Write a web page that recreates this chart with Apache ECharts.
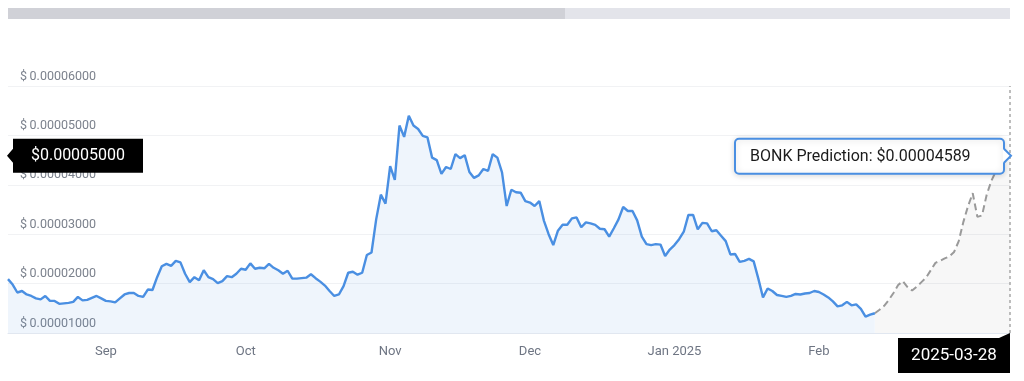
<!DOCTYPE html>
<html><head><meta charset="utf-8">
<script src="https://cdn.jsdelivr.net/npm/echarts@6/dist/echarts.min.js"></script>
<style>html,body{margin:0;padding:0;background:#fff}#c{width:1024px;height:381px}</style>
</head><body><div id="c"></div>
<script>
// ---- data ----
const historyStart = '2024-08-11';
const historyValues = [
 2.09e-5,1.98e-5,1.82e-5,1.85e-5,1.78e-5,1.75e-5,1.70e-5,1.68e-5,1.75e-5,1.65e-5,
 1.65e-5,1.59e-5,1.60e-5,1.61e-5,1.63e-5,1.73e-5,1.66e-5,1.67e-5,1.71e-5,1.75e-5,
 1.70e-5,1.65e-5,1.64e-5,1.62e-5,1.70e-5,1.78e-5,1.81e-5,1.81e-5,1.75e-5,1.73e-5,
 1.88e-5,1.87e-5,2.13e-5,2.35e-5,2.40e-5,2.36e-5,2.46e-5,2.43e-5,2.20e-5,2.03e-5,
 2.13e-5,2.07e-5,2.27e-5,2.13e-5,2.09e-5,2.01e-5,2.05e-5,2.15e-5,2.13e-5,2.20e-5,
 2.30e-5,2.28e-5,2.41e-5,2.30e-5,2.32e-5,2.31e-5,2.40e-5,2.32e-5,2.27e-5,2.20e-5,
 2.26e-5,2.10e-5,2.10e-5,2.11e-5,2.12e-5,2.19e-5,2.11e-5,2.04e-5,1.96e-5,1.85e-5,
 1.75e-5,1.78e-5,1.95e-5,2.22e-5,2.24e-5,2.18e-5,2.22e-5,2.58e-5,2.63e-5,3.30e-5,
 3.80e-5,3.62e-5,4.38e-5,4.10e-5,5.20e-5,4.97e-5,5.40e-5,5.20e-5,5.13e-5,4.99e-5,
 4.96e-5,4.55e-5,4.50e-5,4.22e-5,4.36e-5,4.32e-5,4.62e-5,4.54e-5,4.60e-5,4.26e-5,
 4.14e-5,4.19e-5,4.32e-5,4.28e-5,4.62e-5,4.55e-5,4.25e-5,3.57e-5,3.90e-5,3.85e-5,
 3.84e-5,3.67e-5,3.64e-5,3.57e-5,3.67e-5,3.27e-5,3.00e-5,2.78e-5,3.07e-5,3.19e-5,
 3.19e-5,3.32e-5,3.34e-5,3.14e-5,3.24e-5,3.22e-5,3.19e-5,3.11e-5,3.10e-5,2.95e-5,
 3.12e-5,3.30e-5,3.55e-5,3.47e-5,3.47e-5,3.28e-5,2.95e-5,2.80e-5,2.78e-5,2.80e-5,
 2.79e-5,2.56e-5,2.69e-5,2.78e-5,2.90e-5,3.05e-5,3.39e-5,3.39e-5,3.10e-5,3.23e-5,
 3.22e-5,3.06e-5,3.08e-5,2.97e-5,2.86e-5,2.59e-5,2.60e-5,2.44e-5,2.46e-5,2.50e-5,
 2.45e-5,2.10e-5,1.72e-5,1.90e-5,1.85e-5,1.77e-5,1.75e-5,1.73e-5,1.75e-5,1.79e-5,
 1.78e-5,1.80e-5,1.81e-5,1.85e-5,1.83e-5,1.78e-5,1.72e-5,1.64e-5,1.54e-5,1.56e-5,
 1.63e-5,1.56e-5,1.58e-5,1.49e-5,1.33e-5,1.37e-5,1.40e-5
];
const predictionDates = [
 '2025-02-14','2025-02-16','2025-02-17','2025-02-19','2025-02-20','2025-02-22','2025-02-23',
 '2025-02-25','2025-02-26','2025-02-28','2025-03-01','2025-03-03','2025-03-04','2025-03-06',
 '2025-03-07','2025-03-09','2025-03-10','2025-03-12','2025-03-13','2025-03-15','2025-03-16',
 '2025-03-18','2025-03-19','2025-03-21','2025-03-22','2025-03-24','2025-03-25','2025-03-27','2025-03-28'
];
const predictionValues = [
 1.47e-5,1.55e-5,1.67e-5,1.81e-5,1.97e-5,2.05e-5,1.93e-5,1.86e-5,1.94e-5,2.03e-5,
 2.12e-5,2.27e-5,2.42e-5,2.46e-5,2.51e-5,2.55e-5,2.64e-5,2.86e-5,3.25e-5,3.57e-5,
 3.83e-5,3.35e-5,3.38e-5,3.80e-5,4.08e-5,4.28e-5,4.40e-5,4.50e-5,4.589e-5
];
const yMin = 0.00001, yMax = 0.00006, yStep = 0.00001;
const monthNames = ['Jan','Feb','Mar','Apr','May','Jun','Jul','Aug','Sep','Oct','Nov','Dec'];
const pointerYText = '$0.00005000';
const tooltipText = 'BONK Prediction: $0.00004589';

// ---- build ----
function addDays(s, n) { const d = new Date(s + 'T00:00:00Z'); d.setUTCDate(d.getUTCDate() + n); return d.toISOString().slice(0, 10); }
const historyDates = historyValues.map((_, i) => addDays(historyStart, i));
const categories = historyDates.concat(predictionDates);
const lastHist = historyValues.length - 1;
const predSeries = historyValues.map((v, i) => i === lastHist ? v : '-').concat(predictionValues);
const lastIdx = categories.length - 1;
const lastVal = predictionValues[predictionValues.length - 1];

const FONT = 'Roboto, "Noto Sans", sans-serif';
const chart = echarts.init(document.getElementById('c'), null, { renderer: 'canvas' });
const option = {
  animation: false,
  grid: { left: 8, right: 14, top: 86, bottom: 48, containLabel: false, outerBoundsMode: 'none' },
  xAxis: {
    type: 'category', data: categories, boundaryGap: false,
    axisLine: { lineStyle: { color: '#e1e7f0' } },
    axisTick: { show: false },
    splitLine: { show: false },
    axisLabel: {
      color: '#6e7583', fontSize: 13, fontFamily: FONT, margin: 12,
      interval: (idx, val) => idx <= lastHist && val.slice(8) === '01',
      formatter: (val) => { const m = +val.slice(5, 7) - 1; return monthNames[m] + (m === 0 ? ' ' + val.slice(0, 4) : ''); }
    }
  },
  yAxis: {
    type: 'value', min: yMin, max: yMax, interval: yStep,
    axisLine: { show: false }, axisTick: { show: false },
    splitLine: { lineStyle: { color: '#f1f2f4', width: 1 } },
    axisLabel: {
      inside: true, margin: 12, color: '#7c828d', fontSize: 12.5, fontFamily: FONT,
      verticalAlign: 'bottom', padding: [0, 0, 3, 0],
      formatter: (v) => '$\u2009' + v.toFixed(8)
    }
  },
  series: [
    {
      type: 'line', data: historyValues, showSymbol: false, symbol: 'none',
      lineStyle: { color: '#4a8fe2', width: 2.4 },
      itemStyle: { color: '#4a8fe2' },
      areaStyle: { color: 'rgba(74,143,226,0.12)' }, z: 3
    },
    {
      type: 'line', data: predSeries, showSymbol: false, symbol: 'none',
      lineStyle: { color: '#9a9a9a', width: 2, type: [7, 4] },
      itemStyle: { color: '#9a9a9a' },
      areaStyle: { color: 'rgba(0,0,0,0.045)' }, z: 2,
      markLine: {
        silent: true, symbol: ['none', 'none'], label: { show: false },
        data: [
          { xAxis: lastIdx, lineStyle: { color: '#a8a8a8', width: 1.5, type: [3, 3] } },
          { yAxis: lastVal, lineStyle: { color: '#a8a8a8', width: 1, type: [4, 4] } }
        ]
      }
    }
  ]
};
chart.setOption(option);

const [px, py] = chart.convertToPixel({ gridIndex: 0 }, [lastIdx, lastVal]);
const gb = chart.convertToPixel({ yAxisIndex: 0 }, yMin);
const gl = chart.convertToPixel({ xAxisIndex: 0 }, 0);

const tipR = px - 6, tipL = tipR - 269, tipT = py - 17, tipH = 35;
const yl = gl + 5, yr = yl + 130;
const xr = px, xlft = px - 112;

chart.setOption({
  graphic: [
    { type: 'rect', silent: true, z: 100, shape: { x: gl, y: 8, width: px - gl, height: 11 }, style: { fill: '#e3e4ea' } },
    { type: 'rect', silent: true, z: 101, shape: { x: gl, y: 8, width: 557, height: 11 }, style: { fill: '#d0d1d7' } },
    // y pointer label
    { type: 'polygon', silent: true, z: 100, shape: { points: [[yl, py - 17], [yr, py - 17], [yr, py + 17], [yl, py + 17], [yl, py + 7], [yl - 6, py], [yl, py - 7]] }, style: { fill: '#000' } },
    { type: 'text', silent: true, z: 101, style: { text: pointerYText, x: (yl + yr) / 2, y: py, align: 'center', verticalAlign: 'middle', font: '16px ' + FONT, fill: '#fff' } },
    // x pointer label
    { type: 'polygon', silent: true, z: 100, shape: { points: [[xlft, gb + 5], [xr - 11, gb + 5], [xr, gb], [xr, gb + 40], [xlft, gb + 40]] }, style: { fill: '#000' } },
    { type: 'text', silent: true, z: 101, style: { text: categories[lastIdx], x: (xlft + xr) / 2, y: gb + 23, align: 'center', verticalAlign: 'middle', font: '17px ' + FONT, fill: '#fff' } },
    // tooltip
    { type: 'rect', silent: true, z: 110, shape: { x: tipL, y: tipT, width: tipR - tipL, height: tipH, r: 4 }, style: { fill: '#fff', stroke: '#4a8fe2', lineWidth: 2, shadowBlur: 6, shadowColor: 'rgba(0,0,0,0.15)', shadowOffsetY: 1 } },
    { type: 'polygon', silent: true, z: 111, shape: { points: [[tipR - 1, py - 7], [px + 1, py], [tipR - 1, py + 7]] }, style: { fill: '#fff' } },
    { type: 'polyline', silent: true, z: 112, shape: { points: [[tipR, py - 7], [px + 1, py], [tipR, py + 7]] }, style: { stroke: '#4a8fe2', lineWidth: 2, fill: null } },
    { type: 'text', silent: true, z: 113, style: { text: tooltipText, x: tipL + 15, y: py + 1, align: 'left', verticalAlign: 'middle', font: '16px ' + FONT, fill: '#1b1b1b' } }
  ]
});
</script>
</body></html>
